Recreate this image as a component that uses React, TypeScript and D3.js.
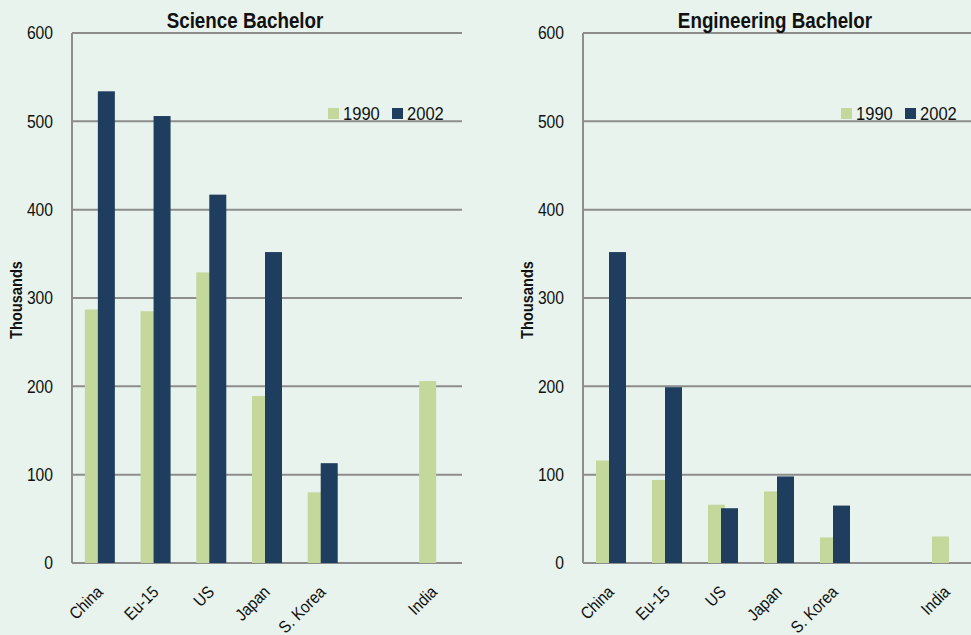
import React, { useEffect, useRef } from 'react'
import * as d3 from 'd3'

const categories = ['China', 'Eu-15', 'US', 'Japan', 'S. Korea', '', 'India']
const years = ['1990', '2002']
const science1990 = [287, 285, 329, 189, 80, null, 206]
const science2002 = [534, 506, 417, 352, 113, null, null]
const eng1990 = [116, 94, 66, 81, 29, null, 30]
const eng2002 = [352, 199, 62, 98, 65, null, null]
const yTicks = [0, 100, 200, 300, 400, 500, 600]

const W = 971
const H = 635
const FONT = '"Liberation Sans", Arial, sans-serif'
const colors = ['#c4d89c', '#1f3d5e']

// condensed look: plain sans squeezed horizontally
const label = (g: any, txt: string, x: number, y: number, o: any = {}) =>
  g.append('text')
    .attr('transform', `translate(${x},${y}) rotate(${o.rot || 0}) scale(${o.sx || 0.87},1)`)
    .attr('text-anchor', o.anchor || 'start')
    .attr('dy', o.dy || null)
    .attr('font-family', FONT)
    .attr('font-size', o.size || 18)
    .attr('font-weight', o.bold ? 'bold' : 'normal')
    .attr('fill', '#111')
    .text(txt)

const App = () => {
  const ref = useRef<SVGSVGElement>(null)

  useEffect(() => {
    const svg = d3.select(ref.current)
    svg.selectAll('*').remove()

    svg.append('rect').attr('width', W).attr('height', H).attr('fill', '#e7f3ec')

    const panels = [
      { title: 'Science Bachelor', left: 72, right: 462, s1: science1990, s2: science2002, legendX: 328, titleX: 245 },
      { title: 'Engineering Bachelor', left: 583, right: 975, s1: eng1990, s2: eng2002, legendX: 841, titleX: 775 },
    ]

    panels.forEach(p => {
      const g = svg.append('g')
      const x = d3.scaleBand<string>()
        .domain(categories.map((c, i) => i + ''))
        .range([p.left, p.right])
      const y = d3.scaleLinear().domain([0, 600]).range([563, 33])

      // grid
      g.selectAll('.grid')
        .data(yTicks)
        .enter()
        .append('line')
        .attr('x1', p.left)
        .attr('x2', p.right)
        .attr('y1', d => y(d))
        .attr('y2', d => y(d))
        .attr('stroke', '#8d8d8d')
        .attr('stroke-width', 2)

      g.append('line')
        .attr('x1', p.left).attr('x2', p.left)
        .attr('y1', y(600)).attr('y2', y(0))
        .attr('stroke', '#8d8d8d').attr('stroke-width', 2)

      yTicks.forEach(t => label(g, t + '', p.left - 19, y(t), { anchor: 'end', dy: '0.36em', size: 18, sx: 0.87 }))

      const bw = 17
      const series = [p.s1, p.s2]
      series.forEach((s, si) => {
        g.selectAll('.bar' + si)
          .data(s.map((v, i) => ({ v, i })).filter(d => d.v != null))
          .enter()
          .append('rect')
          .attr('x', d => x(d.i + '')! + x.bandwidth() / 2 + (si === 0 ? -15 : -2))
          .attr('y', d => y(d.v as number))
          .attr('width', bw)
          .attr('height', d => y(0) - y(d.v as number))
          .attr('fill', colors[si])
      })

      // x labels
      categories.forEach((c, i) => {
        if (!c) return
        label(g, c, x(i + '')! + x.bandwidth() / 2 + 4, 593, { anchor: 'end', rot: -45, size: 17, sx: 0.88 })
      })

      label(g, p.title, p.titleX, 28, { anchor: 'middle', bold: true, size: 22, sx: 0.855 })
      label(g, 'Thousands', p.left - 50, 300, { anchor: 'middle', bold: true, size: 17, rot: -90, sx: 0.86 })

      // legend
      years.forEach((yr, i) => {
        const lx = p.legendX + i * 64
        g.append('rect')
          .attr('x', lx).attr('y', 108).attr('width', 11).attr('height', 11)
          .attr('fill', colors[i])
        label(g, yr, lx + 15, 120, { size: 18, sx: 0.92 })
      })
    })
  }, [])

  return (
    <div style={{ position: 'absolute', left: 0, top: 0 }}>
      <svg ref={ref} width={W} height={H} style={{ display: 'block' }} />
    </div>
  )
}

export default App
